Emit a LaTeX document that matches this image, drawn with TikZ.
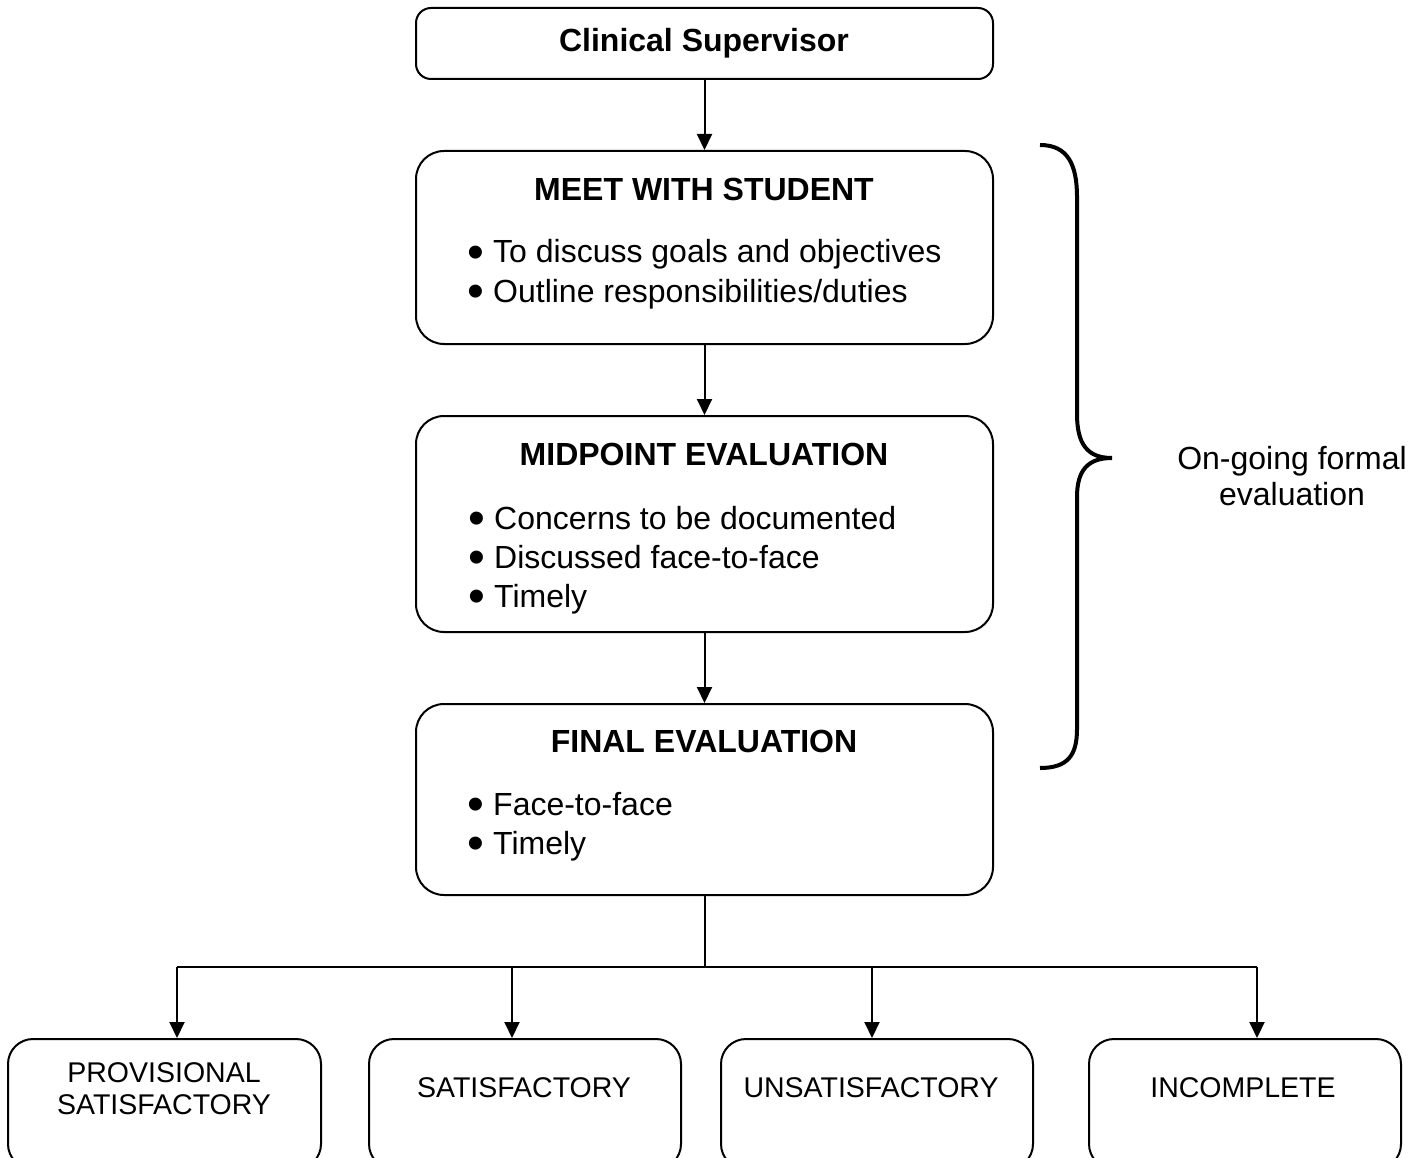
\documentclass[tikz,border=0pt]{standalone}
\usepackage{fontspec}
\setmainfont{Liberation Sans}
\usetikzlibrary{arrows.meta}
% a slightly enlarged bullet followed by a fixed gap
\newcommand\itembullet{\makebox[26pt][l]{\smash{\raisebox{-5.5pt}{\scalebox{1.5}{•}}}}}
\begin{document}
\begin{tikzpicture}[x=1pt,y=-1pt,
  box/.style={draw,line width=2pt,inner sep=0pt,anchor=north west,rounded corners=#1},
  box/.default=28pt,
  title/.style={anchor=base,font=\fontsize{32}{39}\selectfont\bfseries},
  item/.style={anchor=base west,inner sep=0pt,font=\fontsize{32}{39}\selectfont},
  result/.style={anchor=base,font=\fontsize{28.5}{32}\selectfont,align=center},
  arr/.style={line width=2pt,-{Triangle[width=15pt,length=16pt]}},
  link/.style={line width=2pt}]
\useasboundingbox (0,0) rectangle (1421,1158);

% main column
\node[box=15pt,minimum width=577pt,minimum height=71pt] (cs) at (415,7) {};
\node[title] (cst) at (704,51.5) {Clinical Supervisor};

\node[box,minimum width=577pt,minimum height=193pt] (meet) at (415,150) {};
\node[title] (meett) at (704,200.5) {MEET WITH STUDENT};
\node[item] (m1) at (467,263) {\itembullet To discuss goals and objectives};
\node[item] (m2) at (467,302) {\itembullet Outline responsibilities/duties};

\node[box,minimum width=577pt,minimum height=216pt] (mid) at (415,415) {};
\node[title] (midt) at (704,465.5) {MIDPOINT EVALUATION};
\node[item] (d1) at (468,529) {\itembullet Concerns to be documented};
\node[item] (d2) at (468,568) {\itembullet Discussed face-to-face};
\node[item] (d3) at (468,607) {\itembullet Timely};

\node[box,minimum width=577pt,minimum height=191pt] (fin) at (415,703) {};
\node[title] (fint) at (704,752) {FINAL EVALUATION};
\node[item] (f1) at (467,815) {\itembullet Face-to-face};
\node[item] (f2) at (467,854) {\itembullet Timely};

\draw[arr] (cs.south) -- (meet.north);
\draw[arr] (meet.south) -- (mid.north);
\draw[arr] (mid.south) -- (fin.north);

% outcome boxes
\node[box=25pt,minimum width=313pt,minimum height=130pt] (b1) at (7,1038) {};
\node[box=25pt,minimum width=312pt,minimum height=130pt] (b2) at (368,1038) {};
\node[box=25pt,minimum width=312pt,minimum height=130pt] (b3) at (720,1038) {};
\node[box=25pt,minimum width=312pt,minimum height=130pt] (b4) at (1088,1038) {};
\node[result] (r1) at (164,1114) {PROVISIONAL\\SATISFACTORY};
\node[result] (r2) at (524,1097.5) {SATISFACTORY};
\node[result] (r3) at (871,1097.5) {UNSATISFACTORY};
\node[result] (r4) at (1243,1097.5) {INCOMPLETE};

\coordinate (hub) at (fin.south |- 0,967);
\coordinate (j1) at (177,967);
\coordinate (j2) at (512,967);
\coordinate (j3) at (872,967);
\coordinate (j4) at (1257,967);
\draw[link] (fin.south) -- (hub);
\draw[link] (j1) -- (j4);
\draw[arr] (j1) -- (j1 |- b1.north);
\draw[arr] (j2) -- (j2 |- b2.north);
\draw[arr] (j3) -- (j3 |- b3.north);
\draw[arr] (j4) -- (j4 |- b4.north);

% brace and its label
\draw[line width=4pt] (1040,145) .. controls (1068,145) and (1077,165) .. (1077,197)
  -- (1077,414) .. controls (1077,445) and (1088,458) .. (1112,458)
  .. controls (1088,458) and (1077,470) .. (1077,497)
  -- (1077,729) .. controls (1077,755) and (1068,768) .. (1040,768);
\node[anchor=base,font=\fontsize{32}{36}\selectfont,align=center] (lbl) at (1292,505.5) {On-going formal\\evaluation};
\end{tikzpicture}
\end{document}
